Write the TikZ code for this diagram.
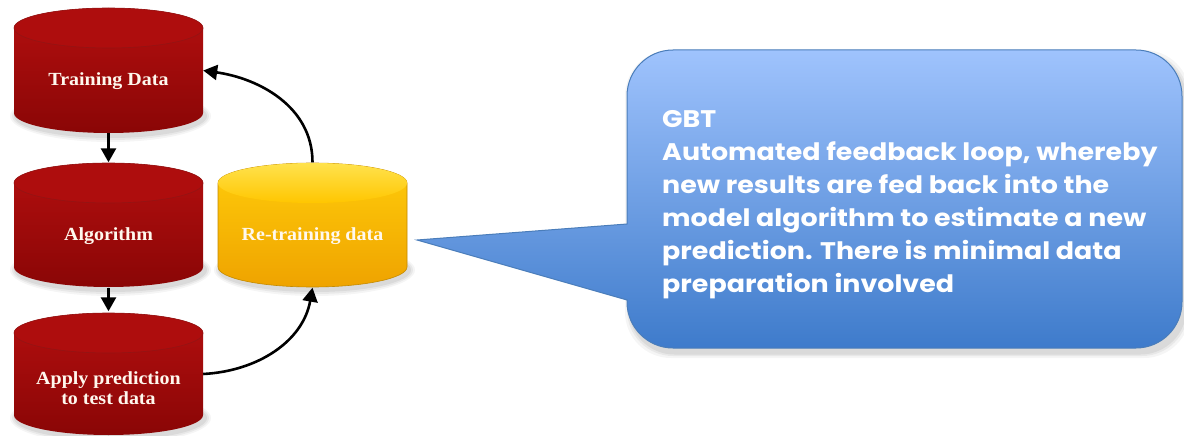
\documentclass[tikz,border=0pt]{standalone}
\usepackage{fontspec}
\usetikzlibrary{arrows.meta}
\newfontfamily\cylfont[FakeStretch=1.08]{Liberation Serif}
\newfontfamily\callfont[FakeStretch=1.12]{Poppins}
\definecolor{redtop}{HTML}{B30F0F}
\definecolor{redbot}{HTML}{8A0606}
\definecolor{redface}{HTML}{AE0D0D}
\definecolor{redrim}{HTML}{931414}
\definecolor{yeltop}{HTML}{FFCC0A}
\definecolor{yelbot}{HTML}{EFA300}
\definecolor{yelface1}{HTML}{FFE24D}
\definecolor{yelface2}{HTML}{FFC600}
\definecolor{yelrim}{HTML}{C48A00}
\definecolor{bluetop}{HTML}{9FC3FD}
\definecolor{bluebot}{HTML}{3E7BCB}
\definecolor{blueedge}{HTML}{4A7DBA}
\definecolor{txtwhite}{HTML}{FFF8EE}
\newcommand\drawcyl[5]{%
  \path[#4] (#1-94.5,#2) -- (#1-94.5,#3)
    arc[start angle=180,end angle=360,x radius=94.5pt,y radius=20pt]
    -- (#1+94.5,#2)
    arc[start angle=0,end angle=180,x radius=94.5pt,y radius=20pt] -- cycle;
  \path[#5] (#1,#2) ellipse[x radius=94.5pt,y radius=20pt];
}
\newcommand\cylshadow[3]{%
  \foreach \s/\o in {6/0.04,4/0.05,2/0.06}{%
    \fill[black,opacity=\o] (#1+2,#3+3) ellipse[x radius=94.5pt+\s pt,y radius=20pt+\s pt];
  }%
}
\tikzset{
  cylbox/.style={minimum width=189pt,minimum height=125pt,inner sep=0pt},
  redbody/.style={top color=redtop,bottom color=redbot},
  redtopface/.style={fill=redface,draw=redrim,line width=0.6pt},
  yelbody/.style={top color=yeltop,bottom color=yelbot,draw=yelrim,line width=0.6pt},
  yeltopface/.style={top color=yelface1,bottom color=yelface2},
  cyltext/.style={text=txtwhite,font=\cylfont\bfseries\fontsize{18.5}{20}\selectfont,align=center,inner sep=0pt},
  flow/.style={line width=2.6pt,-{Triangle[length=14pt,width=15pt]}},
}
\begin{document}
\begin{tikzpicture}[x=1pt,y=-1pt]
\useasboundingbox[fill=white] (0,0) rectangle (1184,436);
% soft shadows
\cylshadow{108.5}{28}{113}
\cylshadow{108.5}{183}{267}
\cylshadow{108.5}{333}{415}
\cylshadow{312.5}{183}{267}
\foreach \s/\o in {5/0.04,3/0.05,1.5/0.06}{%
  \fill[black,opacity=\o,rounded corners=46pt] (627-\s+3,50-\s+5) rectangle (1182+\s+3,348+\s+5);
}
% cylinders
\drawcyl{108.5}{28}{113}{redbody}{redtopface}
\drawcyl{108.5}{183}{267}{redbody}{redtopface}
\drawcyl{108.5}{333}{415}{redbody}{redtopface}
\drawcyl{312.5}{183}{267}{yelbody}{yeltopface}
\node[cylbox] (td) at (108.5,70.5) {};
\node[cylbox] (alg) at (108.5,225) {};
\node[cylbox] (ap) at (108.5,374) {};
\node[cylbox] (rt) at (312.5,225) {};
\node[cyltext] (tdl) at (108.5,81) {Training Data};
\node[cyltext] (algl) at (108.5,236) {Algorithm};
\node[cyltext] (apl) at (108.5,388) {Apply prediction\\to test data};
\node[cyltext] (rtl) at (312.5,236) {Re-training data};
% connectors
\draw[flow] (td.south) -- (alg.north);
\draw[flow] (alg.south) -- (ap.north);
\draw[flow] (rt.north) to[out=90,in=-8] (td.east);
\draw[flow] (ap.east) to[out=3,in=-100] (rt.south);
% callout
\coordinate (tip) at (417,240);
\path[top color=bluetop,bottom color=bluebot,draw=blueedge,line width=1pt]
  (tip) -- (627,224) -- (627,96)
  arc[start angle=180,end angle=90,radius=46pt] -- (1136,50)
  arc[start angle=90,end angle=0,radius=46pt] -- (1182,302)
  arc[start angle=0,end angle=-90,radius=46pt] -- (673,348)
  arc[start angle=270,end angle=180,radius=46pt] -- (627,300) -- cycle;
\node[anchor=north west,inner sep=0pt,align=left,text=white,
  font=\callfont\bfseries\fontsize{24}{33}\selectfont] (gbt) at (662,110)
  {GBT\\Automated feedback loop, whereby\\new results are fed back into the\\model algorithm to estimate a new\\prediction. There is minimal data\\preparation involved};
\end{tikzpicture}
\end{document}
